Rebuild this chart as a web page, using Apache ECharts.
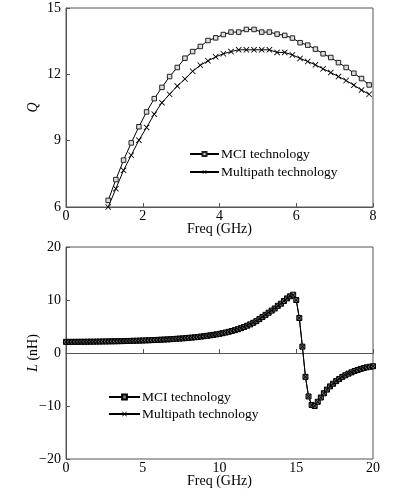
<!DOCTYPE html>
<html>
<head>
<meta charset="utf-8">
<script src="https://cdn.jsdelivr.net/npm/echarts@6/dist/echarts.min.js"></script>
<style>
html,body{margin:0;padding:0;background:#fff;}
#c{width:393px;height:497px;}
</style>
</head>
<body>
<div id="c"></div>
<script>
// ---- Top chart: Q vs Freq ----
const qFreq = [1.1,1.3,1.5,1.7,1.9,2.1,2.3,2.5,2.7,2.9,3.1,3.3,3.5,3.7,3.9,4.1,4.3,4.5,4.7,4.9,5.1,5.3,5.5,5.7,5.9,6.1,6.3,6.5,6.7,6.9,7.1,7.3,7.5,7.7,7.9];
const qMCI = [6.3,7.24,8.12,8.9,9.63,10.3,10.9,11.41,11.9,12.31,12.73,13.03,13.26,13.53,13.65,13.8,13.91,13.91,14.03,14.03,13.91,13.91,13.82,13.76,13.64,13.43,13.32,13.14,12.93,12.76,12.53,12.31,12.05,11.81,11.52];
const qMulti = [6.0,6.83,7.66,8.34,9.02,9.6,10.2,10.72,11.1,11.47,11.79,12.14,12.41,12.61,12.79,12.93,13.03,13.11,13.11,13.11,13.11,13.11,12.99,12.99,12.88,12.72,12.58,12.43,12.25,12.08,11.9,11.72,11.51,11.29,11.1];

// ---- Bottom chart: L vs Freq ----
const lFreq = [0,0.2,0.4,0.6,0.8,1,1.2,1.4,1.6,1.8,2,2.2,2.4,2.6,2.8,3,3.2,3.4,3.6,3.8,4,4.2,4.4,4.6,4.8,5,5.2,5.4,5.6,5.8,6,6.2,6.4,6.6,6.8,7,7.2,7.4,7.6,7.8,8,8.2,8.4,8.6,8.8,9,9.2,9.4,9.6,9.8,10,10.2,10.4,10.6,10.8,11,11.2,11.4,11.6,11.8,12,12.2,12.4,12.6,12.8,13,13.2,13.4,13.6,13.8,14,14.2,14.4,14.6,14.8,15,15.2,15.4,15.6,15.8,16,16.2,16.4,16.6,16.8,17,17.2,17.4,17.6,17.8,18,18.2,18.4,18.6,18.8,19,19.2,19.4,19.6,19.8,20];
const lMCI = [2.10,2.10,2.10,2.11,2.11,2.12,2.12,2.13,2.14,2.14,2.15,2.16,2.17,2.18,2.19,2.20,2.21,2.22,2.24,2.25,2.27,2.28,2.30,2.32,2.34,2.36,2.38,2.40,2.43,2.45,2.48,2.51,2.54,2.57,2.60,2.64,2.68,2.72,2.76,2.81,2.86,2.91,2.97,3.03,3.10,3.17,3.25,3.33,3.42,3.52,3.62,3.74,3.86,4.00,4.15,4.31,4.49,4.69,4.91,5.15,5.40,5.70,6.00,6.40,6.80,7.20,7.60,8.00,8.40,8.90,9.30,9.80,10.30,10.70,11.00,10.00,6.60,1.20,-4.50,-8.20,-9.80,-10.00,-9.20,-8.40,-7.60,-6.90,-6.30,-5.80,-5.30,-4.90,-4.50,-4.20,-3.90,-3.65,-3.40,-3.20,-3.00,-2.85,-2.70,-2.60,-2.50];
const lMulti = [2.10,2.10,2.10,2.11,2.11,2.12,2.12,2.13,2.14,2.14,2.15,2.16,2.17,2.18,2.19,2.20,2.21,2.22,2.24,2.25,2.27,2.28,2.30,2.32,2.34,2.36,2.38,2.40,2.43,2.45,2.48,2.51,2.54,2.57,2.60,2.64,2.68,2.72,2.76,2.81,2.86,2.91,2.97,3.03,3.10,3.17,3.25,3.33,3.42,3.52,3.62,3.74,3.86,4.00,4.15,4.31,4.49,4.69,4.91,5.15,5.40,5.70,6.00,6.40,6.80,7.20,7.60,8.00,8.40,8.90,9.30,9.80,10.30,10.70,10.90,10.00,6.60,1.20,-4.50,-8.20,-9.80,-10.00,-9.20,-8.40,-7.60,-6.90,-6.30,-5.80,-5.30,-4.90,-4.50,-4.20,-3.90,-3.65,-3.40,-3.20,-3.00,-2.85,-2.70,-2.60,-2.50];

const seriesNames = ['MCI technology', 'Multipath technology'];

const FONT = '"Liberation Serif", "Times New Roman", serif';
const AXC = '#555';
const crossPath = 'path://M0,1L1,0L5,4L9,0L10,1L6,5L10,9L9,10L5,6L1,10L0,9L4,5Z';

function zip(xs, ys){ return xs.map((x,i)=>[x, ys[i]]); }
function minusFmt(v){ return String(v).replace('-', '\u2212'); }

function xAx(gi, max, interval){
  return {
    gridIndex: gi, type: 'value', min: 0, max: max, interval: interval,
    name: 'Freq (GHz)', nameLocation: 'middle', nameGap: 15, nameMoveOverlap: false,
    nameTextStyle: {fontFamily: FONT, fontSize: 14, color: '#000'},
    axisLine: {show: true, lineStyle: {color: AXC, width: 1}},
    axisTick: {show: true, inside: true, length: 4, lineStyle: {color: AXC}},
    axisLabel: {fontFamily: FONT, fontSize: 14, color: '#000', margin: 2, formatter: minusFmt},
    splitLine: {show: false}
  };
}
function yAx(gi, min, max, interval, name){
  return {
    gridIndex: gi, type: 'value', min: min, max: max, interval: interval,
    name: name, nameLocation: 'middle', nameGap: 26, nameRotate: 90, nameMoveOverlap: false,
    nameTextStyle: {fontFamily: FONT, fontSize: 14, color: '#000',
      rich: {i: {fontFamily: FONT, fontSize: 14, fontStyle: 'italic', color: '#000'}}},
    axisLine: {show: true, lineStyle: {color: AXC, width: 1}},
    axisTick: {show: true, inside: true, length: 4, lineStyle: {color: AXC}},
    axisLabel: {fontFamily: FONT, fontSize: 14, color: '#000', margin: 5, formatter: minusFmt},
    splitLine: {show: false}
  };
}

const chart = echarts.init(document.getElementById('c'), null, {renderer: 'canvas'});
chart.setOption({
  backgroundColor: '#fff',
  animation: false,
  grid: [
    {left: 66, top: 8, width: 307, height: 199, show: true, borderColor: AXC, borderWidth: 1, backgroundColor: 'transparent'},
    {left: 66, top: 247, width: 307, height: 212, show: true, borderColor: AXC, borderWidth: 1, backgroundColor: 'transparent'}
  ],
  xAxis: [xAx(0, 8, 2), xAx(1, 20, 5)],
  yAxis: [yAx(0, 6, 15, 3, '{i|Q}'), yAx(1, -20, 20, 10, '{i|L} (nH)')],
  legend: [
    {
      data: seriesNames.map(n => ({name: n})),
      orient: 'vertical', left: 189, top: 147, itemWidth: 29, itemHeight: 5, itemGap: 4,
      textStyle: {fontFamily: FONT, fontSize: 13.5, color: '#000', padding: [0,0,0,-3]},
      padding: 0
    },
    {
      data: seriesNames.map(n => ({name: n + ' '})),
      orient: 'vertical', left: 108, top: 390, itemWidth: 31, itemHeight: 6, itemGap: 3,
      textStyle: {fontFamily: FONT, fontSize: 13.5, color: '#000', padding: [0,0,0,-3]},
      formatter: n => n.trim(),
      padding: 0
    }
  ],
  series: [
    {
      name: seriesNames[0], type: 'line', xAxisIndex: 0, yAxisIndex: 0,
      data: zip(qFreq, qMCI), symbol: 'rect', symbolSize: 4.5, showAllSymbol: true,
      lineStyle: {color: '#000', width: 1},
      itemStyle: {color: '#ddd', borderColor: '#222', borderWidth: 1}
    },
    {
      name: seriesNames[1], type: 'line', xAxisIndex: 0, yAxisIndex: 0,
      data: zip(qFreq, qMulti), symbol: crossPath, symbolSize: 6, showAllSymbol: true,
      lineStyle: {color: '#000', width: 1},
      itemStyle: {color: '#000', borderWidth: 0}
    },
    {
      name: seriesNames[0] + ' ', type: 'line', xAxisIndex: 1, yAxisIndex: 1,
      data: zip(lFreq, lMCI), symbol: 'rect', symbolSize: 5, showAllSymbol: true,
      lineStyle: {color: '#000', width: 1},
      itemStyle: {color: '#777', borderColor: '#000', borderWidth: 1}
    },
    {
      name: seriesNames[1] + ' ', type: 'line', xAxisIndex: 1, yAxisIndex: 1,
      data: zip(lFreq, lMulti), symbol: crossPath, symbolSize: 5.5, showAllSymbol: true,
      lineStyle: {color: '#000', width: 1},
      itemStyle: {color: '#000', borderWidth: 0}
    }
  ]
});
</script>
</body>
</html>
